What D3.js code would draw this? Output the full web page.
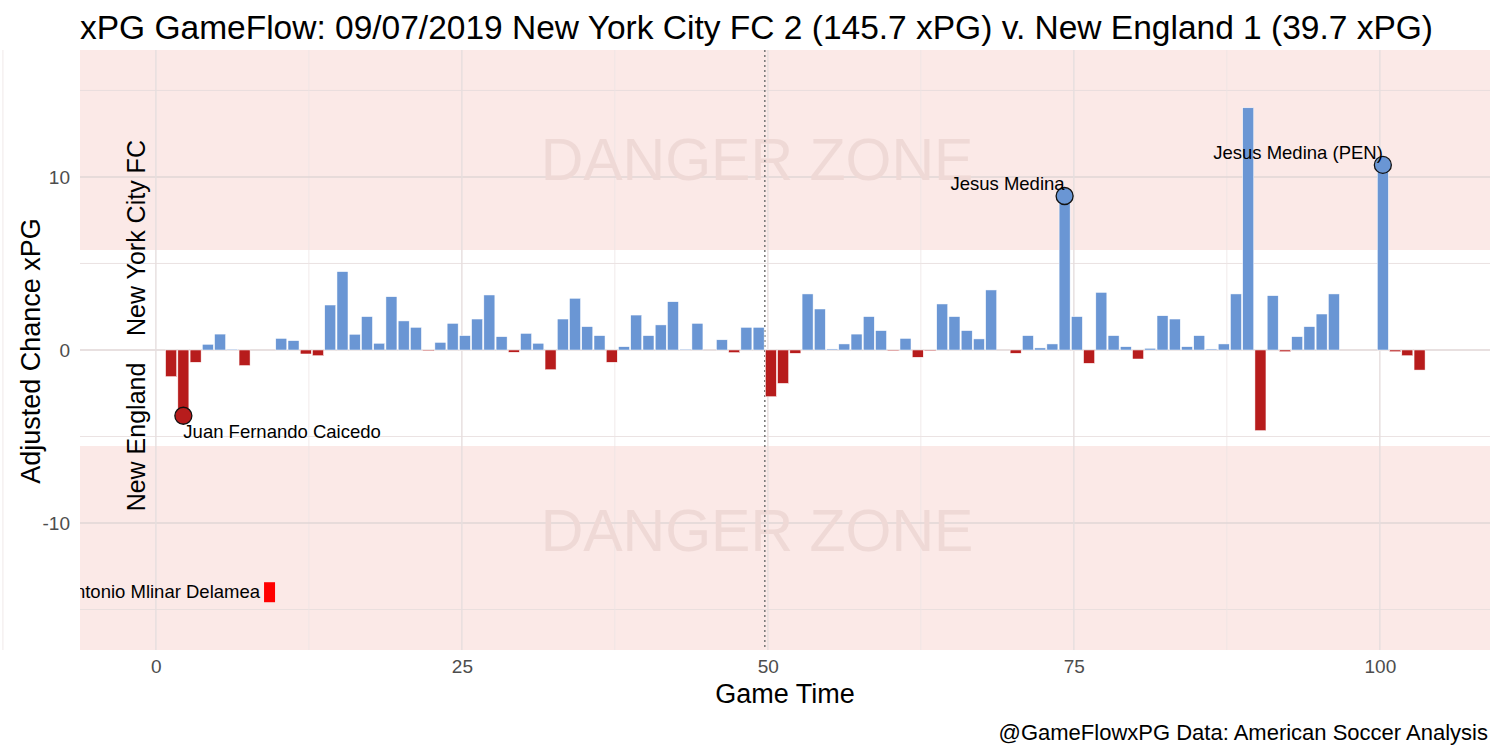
<!DOCTYPE html>
<html><head><meta charset="utf-8">
<script src="https://cdn.jsdelivr.net/npm/d3@7"></script>
<style>body{margin:0;background:#fff}svg{font-family:"Liberation Sans",Arial,sans-serif}</style>
</head><body>
<svg id="c" width="1500" height="750"></svg>
<script>
const minutes = d3.range(1, 104);
const values = [-1.54,-3.8,-0.71,0.33,0.92,0.05,-0.9,0,0,0.67,0.54,-0.23,-0.33,2.6,4.53,0.91,1.93,0.39,3.08,1.68,
1.31,-0.04,0.44,1.54,0.83,1.79,3.18,0.77,-0.13,0.96,0.39,-1.14,1.79,2.99,1.35,0.83,-0.71,0.19,2.02,0.83,
1.45,2.79,0.05,1.54,0,0.59,-0.15,1.31,1.31,-2.7,-1.93,-0.19,3.24,2.37,0.06,0.35,0.92,1.93,1.12,-0.04,
0.67,-0.42,-0.04,2.66,1.93,1.12,0.64,3.47,0,-0.19,0.83,0.12,0.35,8.9,1.93,-0.77,3.33,0.83,0.19,-0.52,
0.1,1.98,1.79,0.19,0.83,0.06,0.35,3.24,14.0,-4.66,3.14,-0.1,0.77,1.35,2.08,3.24,0,0,0,10.7,-0.1,-0.33,-1.16];
const goalMin = [2, 74, 100];
const goalVal = [-3.8, 8.9, 10.7];
const goalTeam = ["NE", "NYC", "NYC"];
const goalLabel = ["Juan Fernando Caicedo", "Jesus Medina", "Jesus Medina (PEN)"];
const cardMin = [9];
const cardVal = [-14];
const cardLabel = ["Antonio Mlinar Delamea"];
const xTicks = [0, 25, 50, 75, 100];
const yTicks = [-10, 0, 10];
const halfTime = 49.75;

const svg = d3.select("#c");
const L = 80, R = 1490, T = 50, B = 650;
const x = d3.scaleLinear().domain([-6.2, 109]).range([L, R]);
const y = d3.scaleLinear().domain([-17.34, 17.34]).range([B, T]);
const blue = "#6a96d4", red = "#b71c1c";
const bx = m => x(m) + 3;

svg.append("rect").attr("x",L).attr("y",y(17.34)).attr("width",R-L).attr("height",y(5.78)-y(17.34)).attr("fill","#fbe9e7");
svg.append("rect").attr("x",L).attr("y",y(-5.55)).attr("width",R-L).attr("height",y(-17.34)-y(-5.55)).attr("fill","#fbe9e7");

const g = svg.append("g");
[-15,-5,5,15].forEach(v=>g.append("line").attr("x1",L).attr("x2",R).attr("y1",y(v)).attr("y2",y(v)).attr("stroke","#e6dcdc").attr("stroke-width",0.8));
[-12.5,12.5,37.5,62.5,87.5].forEach(v=>g.append("line").attr("y1",T).attr("y2",B).attr("x1",x(v)).attr("x2",x(v)).attr("stroke","#ece4e4").attr("stroke-width",0.8));
yTicks.forEach(v=>g.append("line").attr("x1",L).attr("x2",R).attr("y1",y(v)).attr("y2",y(v)).attr("stroke","#e0d6d6").attr("stroke-width",1.4));
xTicks.forEach(v=>g.append("line").attr("y1",T).attr("y2",B).attr("x1",x(v)).attr("x2",x(v)).attr("stroke","#e6dede").attr("stroke-width",1.4));

svg.selectAll("text.dz").data([10.7, -10.7]).join("text").attr("x",757).attr("y",d=>y(d)).attr("text-anchor","middle")
 .attr("dominant-baseline","middle").attr("font-size",59).attr("fill","#efd9d6").text("DANGER ZONE");

svg.append("line").attr("x1",x(halfTime)).attr("x2",x(halfTime)).attr("y1",T).attr("y2",B).attr("stroke","#777").attr("stroke-dasharray","2,3").attr("stroke-width",1.5);

const bw = x(0.9)-x(0);
svg.selectAll("rect.bar").data(minutes.map((m,i)=>({m,v:values[i]})).filter(d=>d.v!==0)).join("rect")
 .attr("x",d=>bx(d.m)-bw/2).attr("width",bw)
 .attr("y",d=>y(Math.max(0,d.v))).attr("height",d=>Math.abs(y(d.v)-y(0)))
 .attr("fill",d=>d.v>0?blue:red).attr("stroke","#fff").attr("stroke-width",0.5);

goalMin.forEach((m,i)=>{
  svg.append("circle").attr("cx",bx(m)).attr("cy",y(goalVal[i])).attr("r",8.5).attr("fill",goalTeam[i]==="NE"?red:blue).attr("stroke","#111").attr("stroke-width",1.3);
  if(goalTeam[i]==="NE") svg.append("text").attr("x",bx(m)).attr("y",y(goalVal[i])+22).attr("font-size",18.5).text(goalLabel[i]);
  else svg.append("text").attr("x",bx(m)).attr("y",y(goalVal[i])-6).attr("text-anchor","end").attr("font-size",18.5).text(goalLabel[i]);
});
svg.append("clipPath").attr("id","pc").append("rect").attr("x",L).attr("y",T).attr("width",R-L).attr("height",B-T);
cardMin.forEach((m,i)=>{
  svg.append("rect").attr("x",bx(m)-5).attr("y",y(cardVal[i])-10).attr("width",11).attr("height",20).attr("fill","#ff0000");
  svg.append("text").attr("clip-path","url(#pc)").attr("x",bx(m)-9).attr("y",y(cardVal[i])+6).attr("text-anchor","end").attr("font-size",18.5).text(cardLabel[i]);
});

const xa = svg.append("g").attr("transform",`translate(0,${B})`).call(d3.axisBottom(x).tickValues(xTicks).tickSize(0).tickPadding(10));
const ya = svg.append("g").attr("transform",`translate(${L},0)`).call(d3.axisLeft(y).tickValues(yTicks).tickSize(0).tickPadding(10).tickFormat(d=>String(d)));
[xa,ya].forEach(a=>{a.select(".domain").remove();a.selectAll("text").attr("font-size",19).attr("fill","#4d4d4d").attr("font-family","Liberation Sans, Arial");});

svg.append("text").attr("x",80).attr("y",39).attr("font-size",33.5).text("xPG GameFlow: 09/07/2019 New York City FC 2 (145.7 xPG) v. New England 1 (39.7 xPG)");
svg.append("text").attr("x",785).attr("y",703).attr("text-anchor","middle").attr("font-size",27).text("Game Time");
svg.append("text").attr("transform","translate(40,351) rotate(-90)").attr("text-anchor","middle").attr("font-size",27).text("Adjusted Chance xPG");
svg.append("text").attr("transform",`translate(145,238) rotate(-90)`).attr("text-anchor","middle").attr("font-size",25).text("New York City FC");
svg.append("text").attr("transform",`translate(145,437) rotate(-90)`).attr("text-anchor","middle").attr("font-size",25).text("New England");
svg.append("text").attr("x",1488).attr("y",740).attr("text-anchor","end").attr("font-size",22).text("@GameFlowxPG Data: American Soccer Analysis");
</script>
</body></html>
